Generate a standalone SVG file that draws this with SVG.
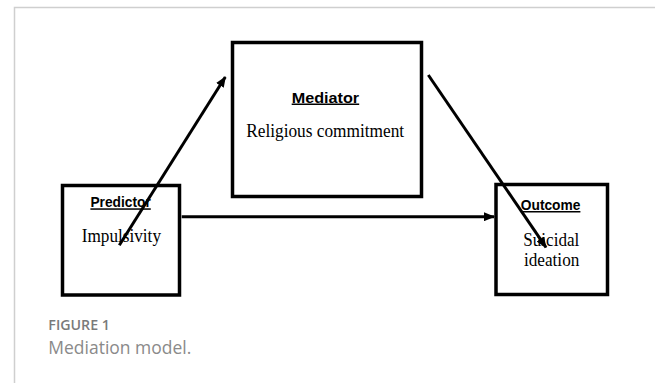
<svg xmlns="http://www.w3.org/2000/svg" width="655" height="383" viewBox="0 0 655 383">
<defs>
<marker id="ah" markerWidth="11" markerHeight="9" refX="10" refY="4.5" orient="auto" markerUnits="userSpaceOnUse">
<path d="M0,0 L11,4.5 L0,9 Z" fill="#000"/>
</marker>
<style>
.box{fill:#fff;stroke:#000;stroke-width:3.5}
.lbl{font-family:"Liberation Sans",Arial,sans-serif;font-weight:bold;font-size:15px;text-decoration:underline;fill:#000}
.txt{font-family:"Liberation Serif","Times New Roman",serif;font-size:18px;fill:#000}
.conn{stroke:#000;stroke-width:3;fill:none;marker-end:url(#ah)}
.cap1{font-family:"Open Sans",sans-serif;font-weight:600;font-size:14.5px;fill:#7a7a7a}
.cap2{font-family:"Open Sans",sans-serif;font-weight:400;font-size:18px;fill:#8a8a8a}
</style>
</defs>
<rect x="0" y="0" width="655" height="383" fill="#fff"/>
<path d="M14.5,383 V7.5 H655" fill="none" stroke="#cfcfcf" stroke-width="1.5"/>
<g id="mediator">
<rect class="box" x="232.5" y="42.5" width="189" height="154"/>
<text class="lbl" x="291.7" y="102.5" textLength="67.5" lengthAdjust="spacingAndGlyphs">Mediator</text>
<text class="txt" x="246.2" y="136.7" textLength="158" lengthAdjust="spacingAndGlyphs">Religious commitment</text>
</g>
<g id="predictor">
<rect class="box" x="62.5" y="185.5" width="117" height="109.5"/>
<text class="lbl" x="90.4" y="207.3" textLength="60.4" lengthAdjust="spacingAndGlyphs">Predictor</text>
<text class="txt" x="81.7" y="242.3" textLength="79.3" lengthAdjust="spacingAndGlyphs">Impulsivity</text>
</g>
<g id="outcome">
<rect class="box" x="496" y="184.5" width="111.5" height="110"/>
<text class="lbl" x="520.8" y="210" textLength="59.6" lengthAdjust="spacingAndGlyphs">Outcome</text>
<text class="txt" x="523.3" y="245.7" textLength="56" lengthAdjust="spacingAndGlyphs">Suicidal</text>
<text class="txt" x="524" y="266" textLength="55.3" lengthAdjust="spacingAndGlyphs">ideation</text>
</g>
<g id="connectors">
<line class="conn" x1="119.3" y1="245.3" x2="225.3" y2="77"/>
<line class="conn" x1="181.7" y1="216.7" x2="494" y2="216.7"/>
<line class="conn" x1="428.3" y1="75" x2="546" y2="247.3"/>
</g>
<text class="cap1" x="48.3" y="330" textLength="61.7" lengthAdjust="spacingAndGlyphs">FIGURE 1</text>
<text class="cap2" x="48.3" y="354.3" textLength="143" lengthAdjust="spacingAndGlyphs">Mediation model.</text>
</svg>
